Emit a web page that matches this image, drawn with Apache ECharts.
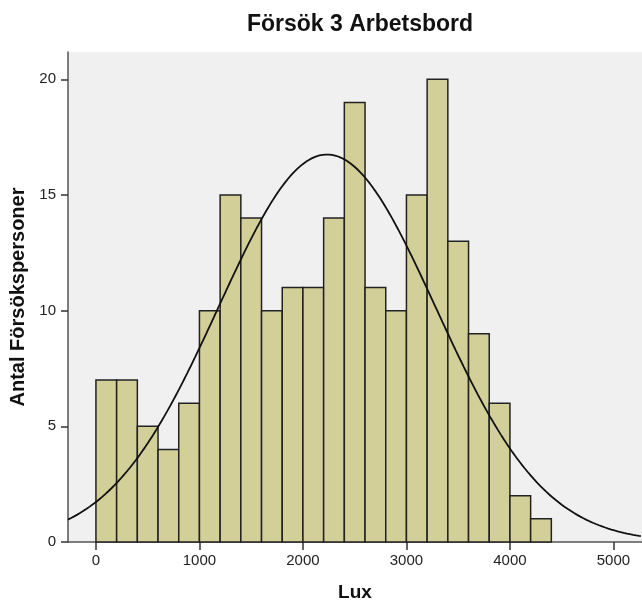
<!DOCTYPE html>
<html>
<head>
<meta charset="utf-8">
<script src="https://cdn.jsdelivr.net/npm/echarts@6/dist/echarts.min.js"></script>
<style>
html,body{margin:0;padding:0;background:#fff;}
#chart{width:642px;height:607px;}
</style>
</head>
<body>
<div id="chart"></div>
<script>
// ---- data ----
var title = "Försök 3 Arbetsbord";
var xName = "Lux";
var yName = "Antal Försökspersoner";
var binWidth = 200;
var binStarts = [0,200,400,600,800,1000,1200,1400,1600,1800,2000,2200,2400,2600,2800,3000,3200,3400,3600,3800,4000,4200];
var counts    = [7,7,5,4,6,10,15,14,10,11,11,14,19,11,10,15,20,13,9,6,2,1];
var xTicks = [0,1000,2000,3000,4000,5000];
var yTicks = [0,5,10,15,20];
// fitted normal curve parameters (as drawn by the stats package)
var curveMean = 2233;
var curveSd = 1048;
var curveN = 220;

var xMin = -270, xMax = 5276, yMax = 21.18;

var barData = binStarts.map(function(s, i){ return [s, s + binWidth, counts[i]]; });
var curveData = [];
for (var x = xMin; x <= xMax; x += 15) {
  var z = (x - curveMean) / curveSd;
  curveData.push([x, curveN * binWidth / (curveSd * Math.sqrt(2 * Math.PI)) * Math.exp(-0.5 * z * z)]);
}

var chart = echarts.init(document.getElementById('chart'), null, {renderer:'canvas'});
var font = 'Liberation Sans, Arial, sans-serif';
chart.setOption({
  backgroundColor: '#ffffff',
  animation: false,
  title: {
    text: title, left: 355, top: 8, textAlign: 'center',
    textStyle: {fontFamily: font, fontSize: 23, fontWeight: 'bold', color: '#111'}
  },
  grid: {left: 68, top: 52, right: -10, bottom: 61, show: true, backgroundColor: '#f0f0f0', borderWidth: 0},
  xAxis: {
    type: 'value', min: xMin, max: xMax,
    name: xName, nameLocation: 'middle', nameGap: 41,
    nameTextStyle: {fontFamily: font, fontSize: 19, fontWeight: 'bold', color: '#111'},
    axisLine: {show: true, onZero: false, lineStyle: {color: '#555', width: 1.5}},
    axisTick: {show: true, length: 8, customValues: xTicks, lineStyle: {color: '#333', width: 1.5}},
    axisLabel: {customValues: xTicks, margin: 11, fontFamily: font, fontSize: 15, color: '#222',
      formatter: function(v){ return String(v); }},
    splitLine: {show: false}
  },
  yAxis: {
    type: 'value', min: 0, max: yMax,
    name: yName, nameLocation: 'middle', nameGap: 32,
    nameTextStyle: {fontFamily: font, fontSize: 20, fontWeight: 'bold', color: '#111'},
    axisLine: {show: true, onZero: false, lineStyle: {color: '#555', width: 1.5}},
    axisTick: {show: true, length: 7, customValues: yTicks, lineStyle: {color: '#333', width: 1.5}},
    axisLabel: {customValues: yTicks, margin: 12, fontFamily: font, fontSize: 15, color: '#222',
      formatter: function(v){ return String(v); }},
    splitLine: {show: false}
  },
  series: [
    {
      type: 'custom',
      data: barData,
      encode: {x: [0, 1], y: 2},
      renderItem: function(params, api){
        var p0 = api.coord([api.value(0), 0]);
        var p1 = api.coord([api.value(1), api.value(2)]);
        return {
          type: 'rect',
          shape: {x: p0[0], y: p1[1], width: p1[0] - p0[0], height: p0[1] - p1[1]},
          style: {fill: '#d3cf99', stroke: '#222', lineWidth: 1.5}
        };
      }
    },
    {
      type: 'line',
      data: curveData,
      showSymbol: false,
      smooth: false,
      lineStyle: {color: '#111', width: 1.8},
      z: 5
    }
  ]
});
</script>
</body>
</html>
